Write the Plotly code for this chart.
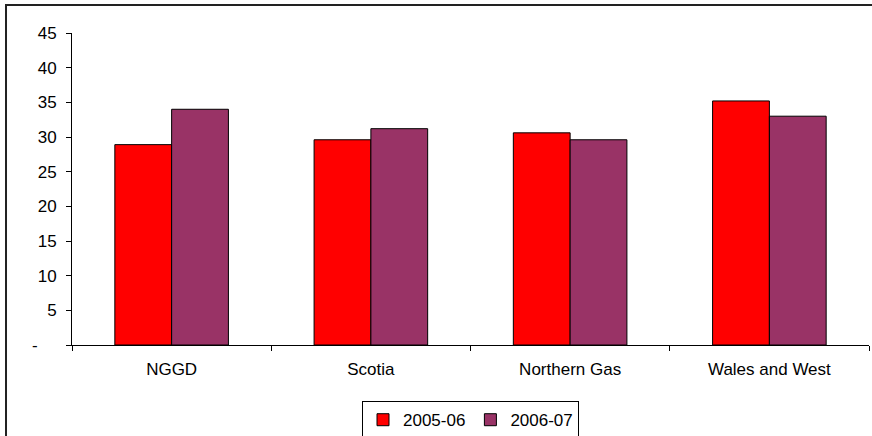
import plotly.graph_objects as go

categories = ["NGGD", "Scotia", "Northern Gas", "Wales and West"]
series_2005 = [28.9, 29.6, 30.6, 35.2]
series_2006 = [34.0, 31.2, 29.6, 33.0]
tick_vals = [0, 5, 10, 15, 20, 25, 30, 35, 40, 45]
tick_text = ["-\u00a0\u00a0\u00a0\u00a0", "5", "10", "15", "20", "25", "30", "35", "40", "45"]

fig = go.Figure()
fig.add_trace(go.Bar(name="2005-06", x=categories, y=series_2005,
                     marker=dict(color="#FF0000", line=dict(color="#000000", width=1))))
fig.add_trace(go.Bar(name="2006-07", x=categories, y=series_2006,
                     marker=dict(color="#993366", line=dict(color="#000000", width=1))))

fig.update_layout(
    width=872, height=436,
    margin=dict(l=72, r=3, t=33, b=91, autoexpand=False),
    paper_bgcolor="white", plot_bgcolor="white",
    barmode="group", bargap=0.43, bargroupgap=0,
    font=dict(family="Liberation Sans, Arial, sans-serif", size=17, color="#000000"),
    showlegend=True,
    legend=dict(orientation="h", x=0.5, xanchor="center", y=-0.18, yanchor="top",
                bordercolor="#000000", borderwidth=1, bgcolor="white",
                font=dict(size=17), itemwidth=30, tracegroupgap=0),
    xaxis=dict(showline=True, linecolor="#000000", linewidth=1,
               ticks="outside", ticklen=5, tickcolor="#000000", tickson="boundaries",
               ticklabelstandoff=9,
               showgrid=False, tickfont=dict(size=17)),
    yaxis=dict(range=[0, 45], tickvals=tick_vals, ticktext=tick_text,
               showline=True, linecolor="#000000", linewidth=1,
               ticks="outside", ticklen=5, tickcolor="#000000",
               ticklabelstandoff=6,
               showgrid=False, zeroline=False, tickfont=dict(size=17)),
    shapes=[dict(type="path", xref="paper", yref="paper",
                 path="M -0.0828,-0.5 L -0.0828,1.0897 L 1.01,1.0897",
                 line=dict(color="#222222", width=2))],
)

fig.write_html("out.html")
